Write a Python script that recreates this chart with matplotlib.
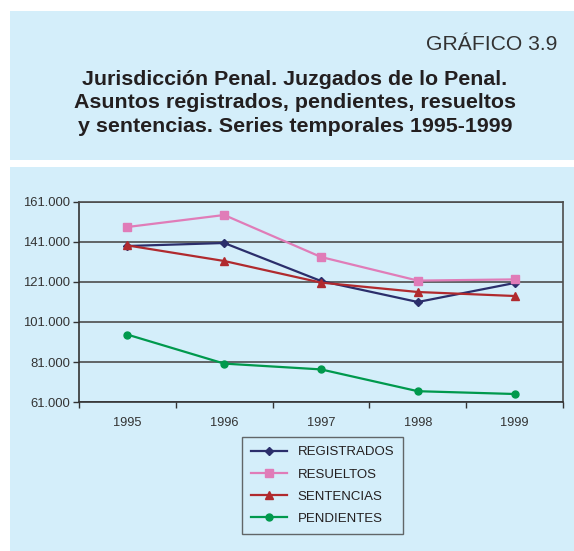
import matplotlib
matplotlib.use("Agg")
import matplotlib.pyplot as plt
from matplotlib.patches import Rectangle

plt.rcParams['font.family'] = ['Liberation Sans', 'DejaVu Sans']

years = ["1995", "1996", "1997", "1998", "1999"]
registrados = [139000, 140500, 121500, 111000, 120500]
resueltos = [148500, 154500, 133500, 121700, 122300]
sentencias = [139300, 131500, 120700, 116000, 114000]
pendientes = [94700, 80200, 77300, 66400, 65000]
yticks = [61000, 81000, 101000, 121000, 141000, 161000]
ytick_labels = ["61.000", "81.000", "101.000", "121.000", "141.000", "161.000"]

W, H = 574, 551
fig = plt.figure(figsize=(W / 100, H / 100), dpi=100)
fig.patch.set_facecolor("white")
bg = "#D4EEFA"

def px(x, y):
    return x / W, 1 - y / H

fig.add_artist(Rectangle((10 / W, 1 - 160 / H), (W - 10) / W, 149 / H,
                         transform=fig.transFigure, facecolor=bg, edgecolor="none", zorder=-10))
fig.add_artist(Rectangle((10 / W, 0), (W - 10) / W, 1 - 167 / H,
                         transform=fig.transFigure, facecolor=bg, edgecolor="none", zorder=-10))

fig.text(*px(557, 45), "GRÁFICO 3.9", ha="right", va="center", fontsize=15.2, color="#333333")
title = ("Jurisdicción Penal. Juzgados de lo Penal.\n"
         "Asuntos registrados, pendientes, resueltos\n"
         "y sentencias. Series temporales 1995-1999")
fig.text(*px(295, 103), title, ha="center", va="center", fontsize=15.4, fontweight="bold",
         color="#231F20", linespacing=1.32)

left, right, top, bottom = 79, 563, 202, 402
ax = fig.add_axes([left / W, 1 - bottom / H, (right - left) / W, (bottom - top) / H])
ax.set_facecolor("none")
x = list(range(len(years)))

ax.plot(x, registrados, color="#2B2E6B", marker="D", markersize=4, lw=1.6, label="REGISTRADOS")
ax.plot(x, resueltos, color="#E07CB8", marker="s", markersize=6, lw=1.6, label="RESUELTOS")
ax.plot(x, sentencias, color="#B02A2E", marker="^", markersize=6, lw=1.6, label="SENTENCIAS")
ax.plot(x, pendientes, color="#00994D", marker="o", markersize=5, lw=1.6, label="PENDIENTES")

ax.set_xlim(-0.5, len(years) - 0.5)
ax.set_ylim(61000, 161000)
ax.set_yticks(yticks)
ax.set_yticklabels(ytick_labels)
ax.set_xticks(x)
ax.set_xticklabels(years)
ax.set_xticks([i - 0.5 for i in range(len(years) + 1)], minor=True)
ax.tick_params(axis="x", which="major", length=0, pad=11, labelsize=9.2, colors="#333333")
ax.tick_params(axis="x", which="minor", length=4, width=1, color="#333333", direction="out")
ax.tick_params(axis="y", length=4, width=1, color="#333333", direction="out", labelsize=9.4,
               labelcolor="#333333", pad=2.5)
ax.yaxis.grid(True, color="#4D4D4D", lw=1.2)
ax.set_axisbelow(True)
for s in ["left", "bottom"]:
    ax.spines[s].set_color("#333333")
    ax.spines[s].set_linewidth(1.2)
for s in ["top", "right"]:
    ax.spines[s].set_color("#4D4D4D")
    ax.spines[s].set_linewidth(1.2)

leg = fig.legend(loc="upper left", bbox_to_anchor=px(242, 437), borderaxespad=0,
                 frameon=True, fancybox=False, edgecolor="#444444", facecolor=bg,
                 fontsize=9.5, handlelength=2.7, labelspacing=0.75, borderpad=0.7,
                 handletextpad=0.8, labelcolor="#231F20")
leg.get_frame().set_linewidth(1.0)

fig.savefig("out.png", dpi=100)
